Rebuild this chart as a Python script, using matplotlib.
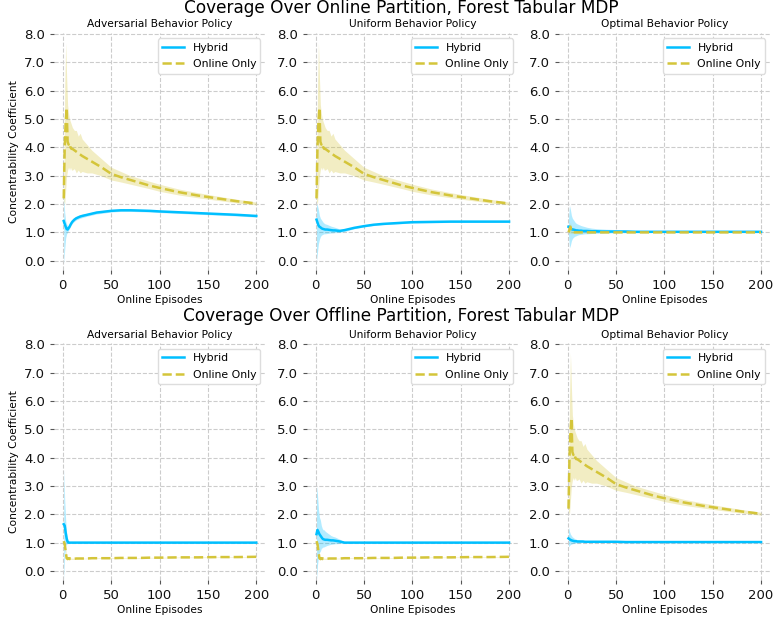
import matplotlib
matplotlib.use("Agg")
import matplotlib.pyplot as plt

episodes = [1, 2, 3, 4, 5, 6, 7, 8, 9, 10, 12, 14, 16, 18, 20, 25, 30, 35, 40, 50,
            60, 70, 80, 90, 100, 120, 140, 160, 180, 200]

policies = ["Adversarial Behavior Policy", "Uniform Behavior Policy", "Optimal Behavior Policy"]
row_titles = ["Coverage Over Online Partition, Forest Tabular MDP",
              "Coverage Over Offline Partition, Forest Tabular MDP"]

# online only, high-coverage shape (shared by several panels)
online_mean = [2.2, 4.0, 4.9, 5.4, 4.2, 4.1, 4.15, 4.0, 3.95, 3.95, 3.9, 3.85, 3.8, 3.75, 3.7,
               3.6, 3.5, 3.4, 3.3, 3.07, 2.95, 2.85, 2.75, 2.65, 2.57, 2.42, 2.3, 2.2, 2.1, 2.02]
online_hi = [2.3, 6.0, 7.7, 6.5, 5.5, 5.2, 5.0, 4.9, 4.8, 4.7, 4.6, 4.6, 4.4, 4.5, 4.3,
             4.1, 3.9, 3.75, 3.6, 3.3, 3.15, 3.0, 2.9, 2.8, 2.7, 2.53, 2.4, 2.28, 2.17, 2.07]
online_lo = [2.1, 2.0, 2.5, 3.0, 3.2, 3.3, 3.2, 3.3, 3.2, 3.2, 3.25, 3.1, 3.2, 3.1, 3.15,
             3.1, 3.1, 3.05, 3.0, 2.85, 2.78, 2.7, 2.62, 2.54, 2.45, 2.32, 2.22, 2.13, 2.04, 1.97]

# online only, optimal policy on online partition
online_opt_mean = [1.0, 1.1, 1.2, 1.05, 1.0, 1.0, 1.0, 1.0, 1.0, 1.0, 1.0, 1.0, 1.0, 1.0, 1.0,
                   1.0, 1.0, 1.0, 1.0, 1.0, 1.0, 1.0, 1.0, 1.0, 1.0, 1.0, 1.0, 1.0, 1.0, 1.0]
online_opt_hi = [1.0, 1.2, 1.35, 1.15, 1.05, 1.02, 1.01, 1.01, 1.01, 1.01, 1.0, 1.0, 1.0, 1.0, 1.0,
                 1.0, 1.0, 1.0, 1.0, 1.0, 1.0, 1.0, 1.0, 1.0, 1.0, 1.0, 1.0, 1.0, 1.0, 1.0]
online_opt_lo = [1.0, 0.95, 1.0, 0.95, 0.98, 0.99, 0.99, 0.99, 0.99, 0.99, 1.0, 1.0, 1.0, 1.0, 1.0,
                 1.0, 1.0, 1.0, 1.0, 1.0, 1.0, 1.0, 1.0, 1.0, 1.0, 1.0, 1.0, 1.0, 1.0, 1.0]

# online only, low values on offline partition
online_low_mean = [1.05, 0.95, 0.7, 0.45, 0.42, 0.45, 0.42, 0.44, 0.43, 0.43, 0.43, 0.44, 0.44, 0.44, 0.44,
                   0.44, 0.45, 0.45, 0.45, 0.45, 0.46, 0.46, 0.46, 0.47, 0.47, 0.48, 0.48, 0.49, 0.49, 0.5]
online_low_hi = [1.1, 1.0, 0.8, 0.5, 0.45, 0.47, 0.44, 0.46, 0.45, 0.45, 0.45, 0.45, 0.45, 0.45, 0.45,
                 0.45, 0.46, 0.46, 0.46, 0.46, 0.47, 0.47, 0.47, 0.48, 0.48, 0.49, 0.49, 0.5, 0.5, 0.51]
online_low_lo = [1.0, 0.9, 0.6, 0.4, 0.39, 0.43, 0.4, 0.42, 0.41, 0.41, 0.41, 0.43, 0.43, 0.43, 0.43,
                 0.43, 0.44, 0.44, 0.44, 0.44, 0.45, 0.45, 0.45, 0.46, 0.46, 0.47, 0.47, 0.48, 0.48, 0.49]

# hybrid, online partition
hyb_on_adv_mean = [1.4, 1.3, 1.2, 1.12, 1.1, 1.15, 1.2, 1.27, 1.33, 1.38, 1.45, 1.5, 1.53, 1.56, 1.58,
                   1.62, 1.66, 1.7, 1.72, 1.76, 1.78, 1.78, 1.77, 1.76, 1.74, 1.71, 1.68, 1.65, 1.62, 1.58]
hyb_on_adv_hi = [2.3, 1.7, 1.4, 1.3, 1.22, 1.22, 1.27, 1.33, 1.39, 1.44, 1.51, 1.56, 1.59, 1.62, 1.64,
                 1.67, 1.71, 1.75, 1.77, 1.8, 1.82, 1.82, 1.81, 1.8, 1.78, 1.75, 1.72, 1.69, 1.66, 1.62]
hyb_on_adv_lo = [-0.1, 0.4, 0.8, 0.95, 1.0, 1.08, 1.13, 1.21, 1.27, 1.32, 1.39, 1.44, 1.47, 1.5, 1.52,
                 1.57, 1.61, 1.65, 1.67, 1.72, 1.74, 1.74, 1.73, 1.72, 1.7, 1.67, 1.64, 1.61, 1.58, 1.54]

hyb_on_uni_mean = [1.45, 1.35, 1.25, 1.2, 1.18, 1.15, 1.13, 1.12, 1.11, 1.1, 1.1, 1.09, 1.08, 1.07, 1.07,
                   1.05, 1.08, 1.12, 1.16, 1.22, 1.27, 1.3, 1.32, 1.34, 1.36, 1.37, 1.38, 1.38, 1.38, 1.38]
hyb_on_uni_hi = [2.0, 1.95, 1.8, 1.6, 1.5, 1.45, 1.4, 1.35, 1.32, 1.3, 1.28, 1.25, 1.22, 1.2, 1.18,
                 1.12, 1.13, 1.16, 1.19, 1.25, 1.3, 1.33, 1.35, 1.37, 1.39, 1.4, 1.41, 1.41, 1.41, 1.41]
hyb_on_uni_lo = [0.0, 0.3, 0.6, 0.75, 0.85, 0.9, 0.92, 0.94, 0.95, 0.95, 0.96, 0.97, 0.98, 0.98, 0.99,
                 1.0, 1.03, 1.08, 1.13, 1.19, 1.24, 1.27, 1.29, 1.31, 1.33, 1.34, 1.35, 1.35, 1.35, 1.35]

hyb_on_opt_mean = [1.2, 1.2, 1.15, 1.12, 1.1, 1.1, 1.09, 1.08, 1.07, 1.07, 1.06, 1.06, 1.05, 1.05, 1.05,
                   1.04, 1.04, 1.03, 1.03, 1.03, 1.03, 1.02, 1.02, 1.02, 1.02, 1.02, 1.02, 1.02, 1.02, 1.02]
hyb_on_opt_hi = [1.5, 1.95, 1.8, 1.6, 1.5, 1.45, 1.4, 1.35, 1.32, 1.3, 1.27, 1.24, 1.22, 1.2, 1.18,
                 1.15, 1.13, 1.12, 1.11, 1.1, 1.08, 1.07, 1.06, 1.05, 1.05, 1.04, 1.04, 1.04, 1.03, 1.03]
hyb_on_opt_lo = [0.9, 0.45, 0.55, 0.7, 0.78, 0.82, 0.85, 0.87, 0.88, 0.9, 0.92, 0.93, 0.94, 0.95, 0.95,
                 0.96, 0.97, 0.97, 0.98, 0.98, 0.99, 0.99, 1.0, 1.0, 1.0, 1.0, 1.0, 1.0, 1.01, 1.01]

# hybrid, offline partition
hyb_off_adv_mean = [1.65, 1.6, 1.35, 1.15, 1.03, 1.0, 1.0, 1.0, 1.0, 1.0, 1.0, 1.0, 1.0, 1.0, 1.0,
                    1.0, 1.0, 1.0, 1.0, 1.0, 1.0, 1.0, 1.0, 1.0, 1.0, 1.0, 1.0, 1.0, 1.0, 1.0]
hyb_off_adv_hi = [3.6, 2.5, 1.8, 1.35, 1.1, 1.02, 1.01, 1.01, 1.0, 1.0, 1.0, 1.0, 1.0, 1.0, 1.0,
                  1.0, 1.0, 1.0, 1.0, 1.0, 1.0, 1.0, 1.0, 1.0, 1.0, 1.0, 1.0, 1.0, 1.0, 1.0]
hyb_off_adv_lo = [-0.3, 0.5, 0.9, 0.95, 0.97, 0.99, 0.99, 0.99, 1.0, 1.0, 1.0, 1.0, 1.0, 1.0, 1.0,
                  1.0, 1.0, 1.0, 1.0, 1.0, 1.0, 1.0, 1.0, 1.0, 1.0, 1.0, 1.0, 1.0, 1.0, 1.0]

hyb_off_uni_mean = [1.3, 1.45, 1.38, 1.3, 1.25, 1.2, 1.15, 1.12, 1.11, 1.1, 1.1, 1.09, 1.08, 1.08, 1.07,
                    1.04, 1.0, 1.0, 1.0, 1.0, 1.0, 1.0, 1.0, 1.0, 1.0, 1.0, 1.0, 1.0, 1.0, 1.0]
hyb_off_uni_hi = [3.0, 2.7, 2.2, 1.9, 1.8, 1.6, 1.5, 1.45, 1.45, 1.4, 1.35, 1.3, 1.25, 1.22, 1.2,
                  1.12, 1.02, 1.01, 1.0, 1.0, 1.0, 1.0, 1.0, 1.0, 1.0, 1.0, 1.0, 1.0, 1.0, 1.0]
hyb_off_uni_lo = [-0.3, 0.2, 0.5, 0.65, 0.7, 0.8, 0.82, 0.85, 0.85, 0.87, 0.9, 0.92, 0.94, 0.95, 0.96,
                  0.97, 0.99, 1.0, 1.0, 1.0, 1.0, 1.0, 1.0, 1.0, 1.0, 1.0, 1.0, 1.0, 1.0, 1.0]

hyb_off_opt_mean = [1.15, 1.12, 1.1, 1.08, 1.07, 1.06, 1.05, 1.05, 1.05, 1.04, 1.04, 1.04, 1.04, 1.03, 1.03,
                    1.03, 1.03, 1.03, 1.03, 1.03, 1.02, 1.02, 1.02, 1.02, 1.02, 1.02, 1.02, 1.02, 1.02, 1.02]
hyb_off_opt_hi = [1.55, 1.4, 1.3, 1.25, 1.2, 1.18, 1.15, 1.13, 1.12, 1.1, 1.09, 1.08, 1.07, 1.07, 1.06,
                  1.06, 1.05, 1.05, 1.05, 1.04, 1.04, 1.04, 1.03, 1.03, 1.03, 1.03, 1.03, 1.03, 1.03, 1.03]
hyb_off_opt_lo = [0.85, 0.9, 0.93, 0.95, 0.96, 0.97, 0.98, 0.98, 0.99, 0.99, 0.99, 1.0, 1.0, 1.0, 1.0,
                  1.0, 1.0, 1.0, 1.0, 1.01, 1.0, 1.0, 1.01, 1.01, 1.01, 1.01, 1.01, 1.01, 1.01, 1.01]

hybrid = [[(hyb_on_adv_mean, hyb_on_adv_lo, hyb_on_adv_hi),
           (hyb_on_uni_mean, hyb_on_uni_lo, hyb_on_uni_hi),
           (hyb_on_opt_mean, hyb_on_opt_lo, hyb_on_opt_hi)],
          [(hyb_off_adv_mean, hyb_off_adv_lo, hyb_off_adv_hi),
           (hyb_off_uni_mean, hyb_off_uni_lo, hyb_off_uni_hi),
           (hyb_off_opt_mean, hyb_off_opt_lo, hyb_off_opt_hi)]]
online = [[(online_mean, online_lo, online_hi),
           (online_mean, online_lo, online_hi),
           (online_opt_mean, online_opt_lo, online_opt_hi)],
          [(online_low_mean, online_low_lo, online_low_hi),
           (online_low_mean, online_low_lo, online_low_hi),
           (online_mean, online_lo, online_hi)]]

blue = "#00BFFF"
yellow = "#D4C53A"

fig = plt.figure(figsize=(7.73, 6.23), dpi=100)

lefts = [0.070, 0.397, 0.723]
bottoms = [0.567, 0.069]
w, h = 0.274, 0.380

for r in range(2):
    fig.text(0.519, 1 - (8 if r == 0 else 316) / 623, row_titles[r],
             ha="center", va="center", fontsize=12.2)
    for c in range(3):
        ax = fig.add_axes([lefts[c], bottoms[r], w, h])
        m, lo, hi = hybrid[r][c]
        ax.fill_between(episodes, lo, hi, color=blue, alpha=0.3, linewidth=0)
        ax.plot(episodes, m, color=blue, linewidth=1.8, label="Hybrid")
        m, lo, hi = online[r][c]
        ax.fill_between(episodes, lo, hi, color=yellow, alpha=0.3, linewidth=0)
        ax.plot(episodes, m, color=yellow, linewidth=1.8, linestyle="--", label="Online Only")

        ax.set_xlim(-8.95, 209.95)
        ax.set_ylim(-0.32, 8.04)
        ax.set_yticks([0, 1, 2, 3, 4, 5, 6, 7, 8])
        ax.set_yticklabels([f"{v:.1f}" for v in range(9)])
        ax.set_xticks([0, 50, 100, 150, 200])
        ax.tick_params(labelsize=9.5, length=3, color="#555555", labelcolor="#111111")
        ax.grid(True, linestyle="--", color="#cccccc", linewidth=0.8)
        ax.set_axisbelow(True)
        for s in ax.spines.values():
            s.set_visible(False)
        ax.set_title(policies[c], fontsize=7.7, pad=4)
        ax.set_xlabel("Online Episodes", fontsize=7.7, labelpad=2)
        if c == 0:
            ax.set_ylabel("Concentrability Coefficient", fontsize=7.7)
        ax.legend(loc="upper right", fontsize=7.8, framealpha=1, edgecolor="#dddddd",
                  labelspacing=0.6)

plt.savefig("out.png", dpi=100)
